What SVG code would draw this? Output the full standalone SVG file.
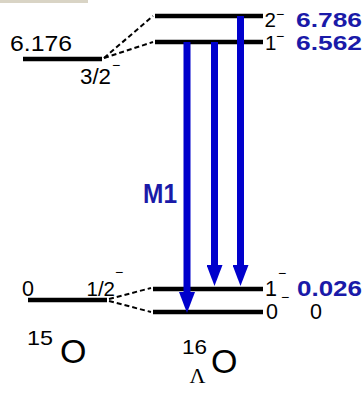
<svg xmlns="http://www.w3.org/2000/svg" width="364" height="393" viewBox="0 0 364 393">
<style>
.lvl{stroke:#000;stroke-width:4.5;fill:none}
.dash{stroke:#000;stroke-width:2;stroke-dasharray:5,3;fill:none}
.arr{stroke:#0000cc;stroke-width:7;fill:none}
.t{font-family:"Liberation Sans",Arial,sans-serif;fill:#000}
.sup{font-family:"Liberation Sans",Arial,sans-serif;fill:#000;font-size:14px}
.b{font-family:"Liberation Sans",Arial,sans-serif;font-weight:bold;fill:#1a1aa8}
.s{font-family:"Liberation Serif","Times New Roman",serif;fill:#000}
</style>
<defs>
<marker id="ah" markerUnits="userSpaceOnUse" markerWidth="21" markerHeight="16" viewBox="0 0 21 16" refX="0" refY="8" orient="auto">
<path d="M0,0 L21,8 L0,16 z" fill="#0000cc"/>
</marker>
</defs>
<rect x="0" y="0" width="88" height="3" fill="#d9d4c5"/>
<g id="o15-3-2">
<line class="lvl" x1="23" y1="59" x2="102" y2="59"/>
<text class="t" x="10" y="51" font-size="22.5" textLength="62" lengthAdjust="spacingAndGlyphs">6.176</text>
<text class="t" x="80" y="83.5" font-size="22" textLength="31" lengthAdjust="spacingAndGlyphs">3/2</text>
<text class="sup" x="112" y="70">−</text>
</g>
<g id="o15-1-2">
<line class="lvl" x1="28" y1="300" x2="107" y2="300"/>
<text class="t" x="22" y="295.5" font-size="21.5">0</text>
<text class="t" x="86.5" y="295.5" font-size="20.5">1/2</text>
<text class="sup" x="115" y="277">−</text>
</g>
<g id="l16-2">
<line class="lvl" x1="155" y1="16" x2="263" y2="16"/>
<text class="t" x="264.5" y="27" font-size="20.5">2</text>
<text class="sup" x="276" y="19">−</text>
<text class="b" x="296" y="27" font-size="20.5" textLength="66" lengthAdjust="spacingAndGlyphs">6.786</text>
</g>
<g id="l16-1">
<line class="lvl" x1="155" y1="42" x2="263" y2="42"/>
<text class="t" x="265" y="49.5" font-size="20.5">1</text>
<text class="sup" x="276" y="41">−</text>
<text class="b" x="296" y="49.5" font-size="20.5" textLength="66" lengthAdjust="spacingAndGlyphs">6.562</text>
</g>
<g id="l16-1g">
<line class="lvl" x1="153" y1="289" x2="263" y2="289"/>
<text class="t" x="265" y="296" font-size="21.5">1</text>
<text class="sup" x="278" y="278">−</text>
<text class="b" x="297" y="296" font-size="21.5" textLength="65" lengthAdjust="spacingAndGlyphs">0.026</text>
</g>
<g id="l16-0g">
<line class="lvl" x1="153" y1="312" x2="263" y2="312"/>
<text class="t" x="266" y="319" font-size="21.5">0</text>
<text class="sup" x="281" y="302">−</text>
<text class="t" x="310" y="319" font-size="21.5">0</text>
</g>
<g id="label-15O">
<text class="t" x="27" y="344.5" font-size="21" textLength="26" lengthAdjust="spacingAndGlyphs">15</text>
<text class="t" x="60" y="362.5" font-size="34">O</text>
</g>
<g id="label-16LO">
<text class="t" x="182" y="353.5" font-size="21" textLength="25" lengthAdjust="spacingAndGlyphs">16</text>
<text class="t" x="211" y="372.5" font-size="34">O</text>
<text class="s" x="189.5" y="382.5" font-size="22">Λ</text>
</g>
<g id="label-M1">
<text class="b" x="143" y="203" font-size="28" textLength="34" lengthAdjust="spacingAndGlyphs" fill="#0000cc">M1</text>
</g>
<g id="connectors">
<line class="dash" x1="104" y1="58" x2="153" y2="16"/>
<line class="dash" x1="104" y1="58" x2="153" y2="42"/>
<line class="dash" x1="109" y1="299" x2="151" y2="288"/>
<line class="dash" x1="109" y1="301" x2="151" y2="312"/>
<line class="arr" x1="187" y1="42" x2="187" y2="292" marker-end="url(#ah)"/>
<line class="arr" x1="214.5" y1="42" x2="214.5" y2="265" marker-end="url(#ah)"/>
<line class="arr" x1="240.5" y1="16" x2="240.5" y2="265" marker-end="url(#ah)"/>
</g>
</svg>
